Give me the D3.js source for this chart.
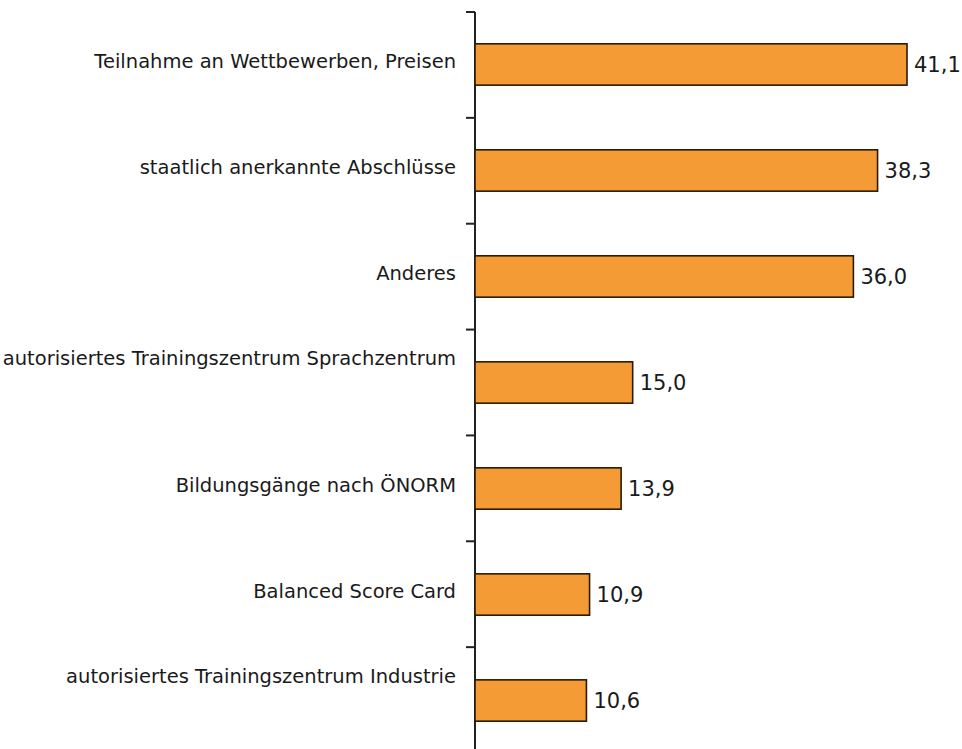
<!DOCTYPE html>
<html>
<head>
<meta charset="utf-8">
<script src="https://cdn.jsdelivr.net/npm/d3@7"></script>
<style>
  body { margin: 0; background: #fff; }
  text { font-family: "DejaVu Sans", sans-serif; fill: #1a1a1a; }
</style>
</head>
<body>
<svg id="chart" width="962" height="749"></svg>
<script>
// categories, top to bottom
var categories = [
  "Teilnahme an Wettbewerben, Preisen",
  "staatlich anerkannte Abschlüsse",
  "Anderes",
  "autorisiertes Trainingszentrum Sprachzentrum",
  "Bildungsgänge nach ÖNORM",
  "Balanced Score Card",
  "autorisiertes Trainingszentrum Industrie"
];
var values = [41.1, 38.3, 36.0, 15.0, 13.9, 10.9, 10.6];
// long labels sit one half line higher (first line of a two line box)
var twoLine = [false, false, false, true, false, false, true];

var svg = d3.select("#chart"),
  width = +svg.attr("width"),
  height = +svg.attr("height");

var margin = { top: 12, right: 55, bottom: -4, left: 475 };

var x = d3.scaleLinear()
  .domain([0, 41.1])
  .range([margin.left, 907]);

var y = d3.scaleBand()
  .domain(categories)
  .range([margin.top, height - margin.bottom])
  .paddingInner(0.61)
  .paddingOuter(0.3);

var fmt = function (v) { return d3.format(".1f")(v).replace(".", ","); };

// axis (ticks between bands)
var tickPos = d3.range(categories.length + 1).map(function (i) {
  return margin.top + i * (height - margin.bottom - margin.top) / categories.length;
});

svg.append("line")
  .attr("x1", margin.left).attr("x2", margin.left)
  .attr("y1", tickPos[0]).attr("y2", height)
  .attr("stroke", "#222").attr("stroke-width", 2);

svg.append("g")
  .selectAll("line")
  .data(tickPos)
  .enter()
  .append("line")
  .attr("x1", margin.left - 9).attr("x2", margin.left)
  .attr("y1", function (d) { return d; })
  .attr("y2", function (d) { return d; })
  .attr("stroke", "#222").attr("stroke-width", 2);

// bars
svg.append("g")
  .selectAll("rect")
  .data(values)
  .enter()
  .append("rect")
  .attr("x", x(0))
  .attr("y", function (d, i) { return y(categories[i]); })
  .attr("width", function (d) { return x(d) - x(0); })
  .attr("height", y.bandwidth())
  .attr("fill", "#F59B36")
  .attr("stroke", "#2a1a0a")
  .attr("stroke-width", 1.6);

// value labels
svg.append("g")
  .selectAll("text")
  .data(values)
  .enter()
  .append("text")
  .attr("x", function (d) { return x(d) + 7; })
  .attr("y", function (d, i) { return y(categories[i]) + y.bandwidth() / 2; })
  .attr("dy", "0.36em")
  .attr("font-size", 21)
  .text(fmt);

// category labels
svg.append("g")
  .selectAll("text")
  .data(categories)
  .enter()
  .append("text")
  .attr("x", 456)
  .attr("y", function (d, i) { return y(d) + y.bandwidth() / 2 - (twoLine[i] ? 21 : 0); })
  .attr("dy", "0.2em")
  .attr("text-anchor", "end")
  .attr("font-size", 19.5)
  .text(function (d) { return d; });
</script>
</body>
</html>
